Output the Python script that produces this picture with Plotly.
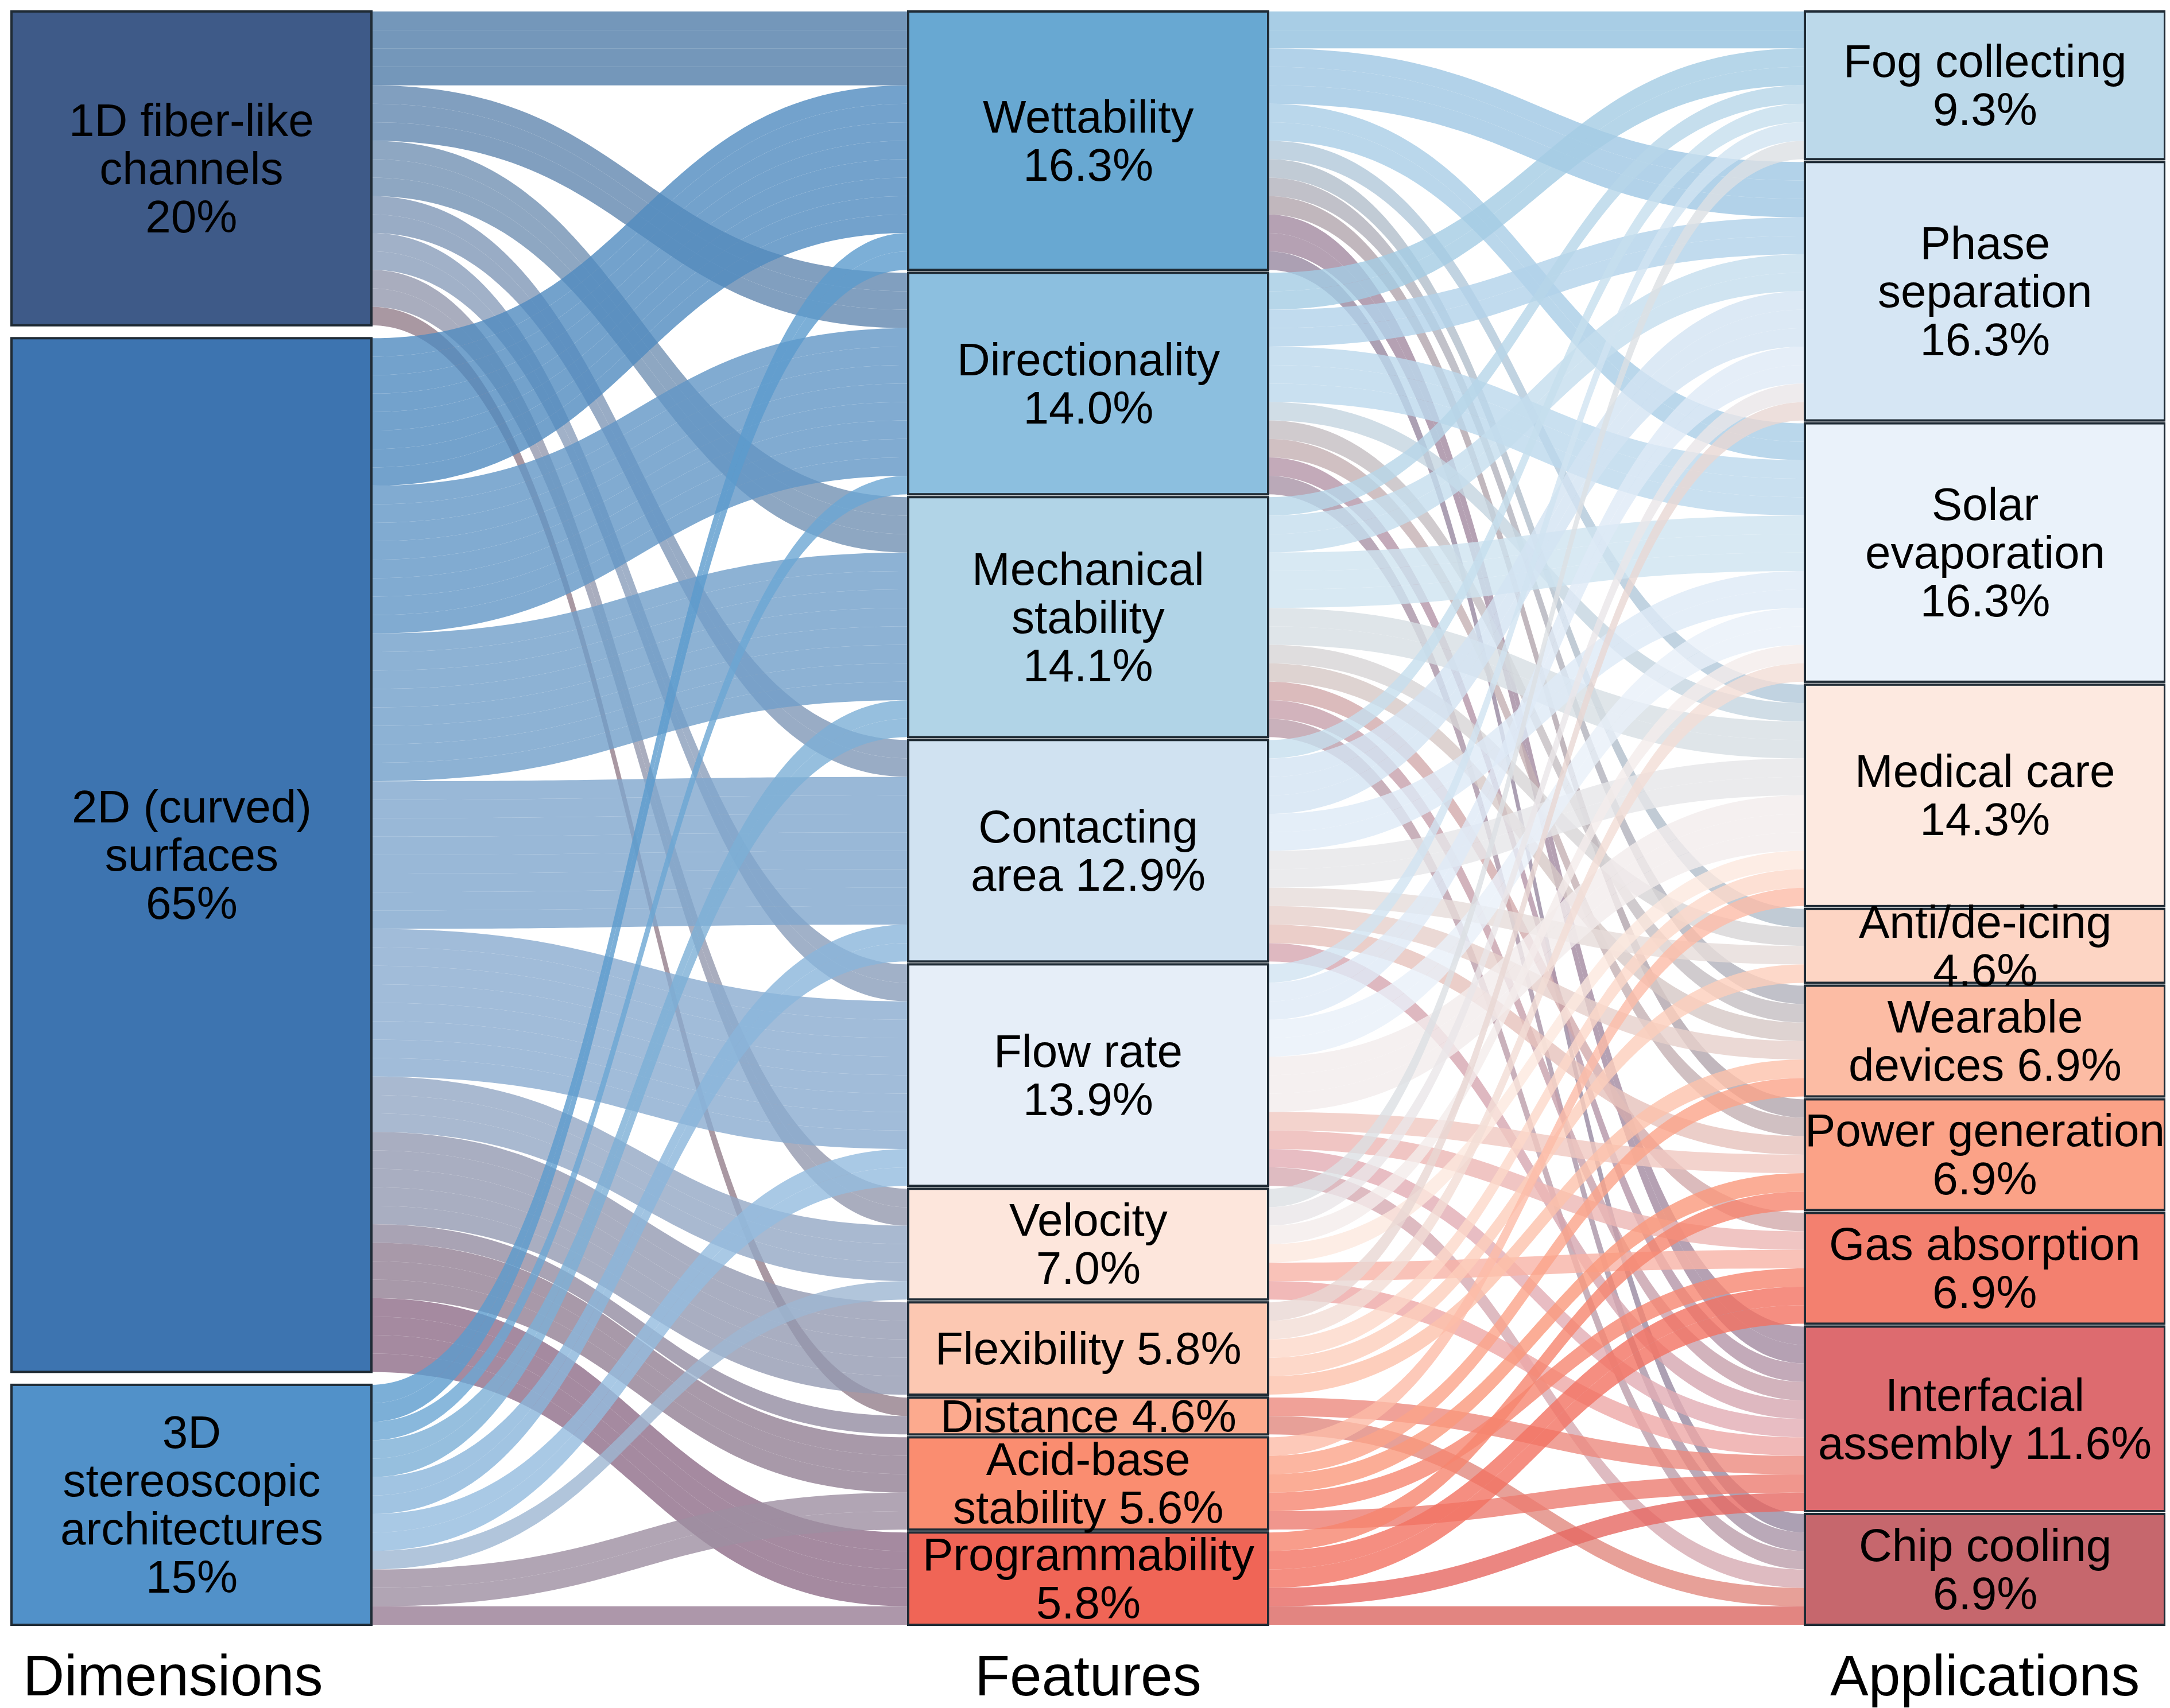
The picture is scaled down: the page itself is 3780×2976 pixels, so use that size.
import plotly.graph_objects as go

# ---------------- data ----------------
dimension_labels = ["1D fiber-like\nchannels\n20%", "2D (curved)\nsurfaces\n65%",
                    "3D\nstereoscopic\narchitectures\n15%"]
feature_labels = ["Wettability\n16.3%", "Directionality\n14.0%", "Mechanical\nstability\n14.1%",
                  "Contacting\narea 12.9%", "Flow rate\n13.9%", "Velocity\n7.0%",
                  "Flexibility 5.8%", "Distance 4.6%", "Acid-base\nstability 5.6%",
                  "Programmability\n5.8%"]
application_labels = ["Fog collecting\n9.3%", "Phase\nseparation\n16.3%", "Solar\nevaporation\n16.3%",
                      "Medical care\n14.3%", "Anti/de-icing\n4.6%", "Wearable\ndevices 6.9%",
                      "Power generation\n6.9%", "Gas absorption\n6.9%", "Interfacial\nassembly 11.6%",
                      "Chip cooling\n6.9%"]
column_titles = ["Dimensions", "Features", "Applications"]

# number of studies (strands): dimension -> feature
# columns: Wett, Dir, Mech, Contact, Flow, Vel, Flex, Dist, Acid, Prog
dim_1d_to_features = [4, 3, 3, 2, 2, 2, 0, 1, 0, 0]
dim_2d_to_features = [8, 8, 8, 8, 8, 3, 5, 1, 3, 4]
dim_3d_to_features = [2, 1, 2, 2, 2, 1, 0, 0, 2, 1]

# feature -> application
# columns: Fog, Phase, Solar, Medical, Anti, Wearable, Power, Gas, Interfacial, Chip
wettability_to_apps = [2, 3, 2, 1, 1, 1, 1, 0, 2, 1]
directionality_to_apps = [2, 2, 3, 1, 0, 1, 1, 0, 1, 1]
mechanical_to_apps = [1, 2, 3, 2, 1, 1, 0, 1, 1, 1]
contacting_to_apps = [1, 3, 2, 2, 1, 1, 1, 0, 1, 0]
flowrate_to_apps = [1, 2, 2, 3, 0, 0, 1, 1, 1, 1]
velocity_to_apps = [1, 1, 1, 1, 0, 0, 0, 1, 1, 0]
flexibility_to_apps = [0, 1, 1, 1, 1, 1, 0, 0, 0, 0]
distance_to_apps = [0, 0, 0, 0, 0, 0, 0, 0, 1, 1]
acidbase_to_apps = [0, 0, 0, 1, 0, 1, 1, 1, 1, 0]
programmability_to_apps = [0, 0, 0, 0, 0, 0, 1, 2, 1, 1]

dimension_colors = ["#3e5a88", "#3d74b0", "#5191c9"]
feature_colors = ["#68a8d2", "#8cbfdf", "#b1d4e7", "#d0e2f1", "#e6eef8",
                  "#fde6dc", "#fcc8b2", "#fcaa8e", "#fa8d70", "#f06556"]
application_colors = ["#bcd9ea", "#d6e6f4", "#eaf2fa", "#fde9e0", "#fdd5c4",
                      "#fcbca4", "#fba287", "#f3806f", "#dd6b6f", "#c6676d"]

# ---------------- geometry / style ----------------
W, H = 3780, 2976
ML, MR, MT, MB = 12, 17, 12, 153
PW, PH = W - ML - MR, H - MT - MB
NODE_THICK = 627
NODE_PAD = 5
FONT = "Liberation Sans, Arial, Helvetica, sans-serif"
LABEL_SIZE = 80          # glyph size of node labels
LINE_STEP = 84           # baseline-to-baseline distance of label lines
TITLE_SIZE = 100
LINK_ALPHA = 0.8

dim_to_feat = [dim_1d_to_features, dim_2d_to_features, dim_3d_to_features]
feat_to_app = [wettability_to_apps, directionality_to_apps, mechanical_to_apps,
               contacting_to_apps, flowrate_to_apps, velocity_to_apps,
               flexibility_to_apps, distance_to_apps, acidbase_to_apps,
               programmability_to_apps]

columns = [dimension_labels, feature_labels, application_labels]
col_colors = [dimension_colors, feature_colors, application_colors]
offsets = [0, len(dimension_labels), len(dimension_labels) + len(feature_labels)]


def hex_rgb(h):
    return tuple(int(h[i:i + 2], 16) for i in (1, 3, 5))


def blend(a, b, t=0.5, alpha=LINK_ALPHA):
    ra, rb = hex_rgb(a), hex_rgb(b)
    c = [round(ra[k] * (1 - t) + rb[k] * t) for k in range(3)]
    return f"rgba({c[0]},{c[1]},{c[2]},{alpha})"


sources, targets, values, link_colors = [], [], [], []


def add_links(matrix, c_src, c_tgt, t):
    for i, row in enumerate(matrix):
        for j, cnt in enumerate(row):
            for _ in range(cnt):
                sources.append(offsets[c_src] + i)
                targets.append(offsets[c_tgt] + j)
                values.append(1)
                link_colors.append(blend(col_colors[c_src][i], col_colors[c_tgt][j], t))


add_links(dim_to_feat, 0, 1, 0.45)
add_links(feat_to_app, 1, 2, 0.5)

# node values as plotly computes them (max of in/out flow)
n_nodes = sum(len(c) for c in columns)
inflow = [0] * n_nodes
outflow = [0] * n_nodes
for s, t, v in zip(sources, targets, values):
    outflow[s] += v
    inflow[t] += v
node_val = [max(a, b) for a, b in zip(inflow, outflow)]

col_vals = [[node_val[offsets[c] + i] for i in range(len(columns[c]))] for c in range(3)]
ky = min((PH - (len(v) - 1) * NODE_PAD) / sum(v) for v in col_vals)

col_x = [NODE_THICK / 2 / PW, 0.5, 1 - NODE_THICK / 2 / PW]


def label_html(txt):
    # base font sets the line step (plotly uses 1.3 em), spans set glyph size
    return "<br>".join(f'<span style="font-size:{LABEL_SIZE}px">{ln}</span>'
                       for ln in txt.split("\n"))


node_x, node_y = [], []
annotations = []
for c in range(3):
    vals = col_vals[c]
    n = len(vals)
    gap = (PH - sum(vals) * ky) / (n - 1)
    y = 0.0
    for i, v in enumerate(vals):
        h = v * ky
        cy = y + h / 2
        node_x.append(col_x[c])
        node_y.append(cy / PH)
        annotations.append(dict(
            x=col_x[c], y=1 - cy / PH, xref="paper", yref="paper",
            text=label_html(columns[c][i]), showarrow=False,
            xanchor="center", yanchor="middle", align="center",
            font=dict(family=FONT, size=LINE_STEP / 1.3, color="#000000")))
        y += h + gap

title_shift = [-33, 0, 0]
for c, title in enumerate(column_titles):
    annotations.append(dict(
        x=col_x[c], y=-88 / PH, xref="paper", yref="paper", text=title,
        showarrow=False, xanchor="center", yanchor="middle", xshift=title_shift[c],
        font=dict(family=FONT, size=TITLE_SIZE, color="#000000")))

names = [l.replace("\n", " ") for col in columns for l in col]

fig = go.Figure(go.Sankey(
    arrangement="fixed",
    node=dict(
        label=[""] * n_nodes,
        customdata=names,
        hovertemplate="%{customdata}<extra></extra>",
        x=node_x, y=node_y,
        pad=NODE_PAD, thickness=NODE_THICK,
        color=dimension_colors + feature_colors + application_colors,
        line=dict(color="#1f2b35", width=4),
    ),
    link=dict(source=sources, target=targets, value=values, color=link_colors,
              line=dict(width=0)),
))

fig.update_layout(
    width=W, height=H,
    margin=dict(l=ML, r=MR, t=MT, b=MB, pad=0),
    paper_bgcolor="white", plot_bgcolor="white",
    font=dict(family=FONT, size=LABEL_SIZE, color="#000000"),
    annotations=annotations,
)

fig.write_html("out.html")
